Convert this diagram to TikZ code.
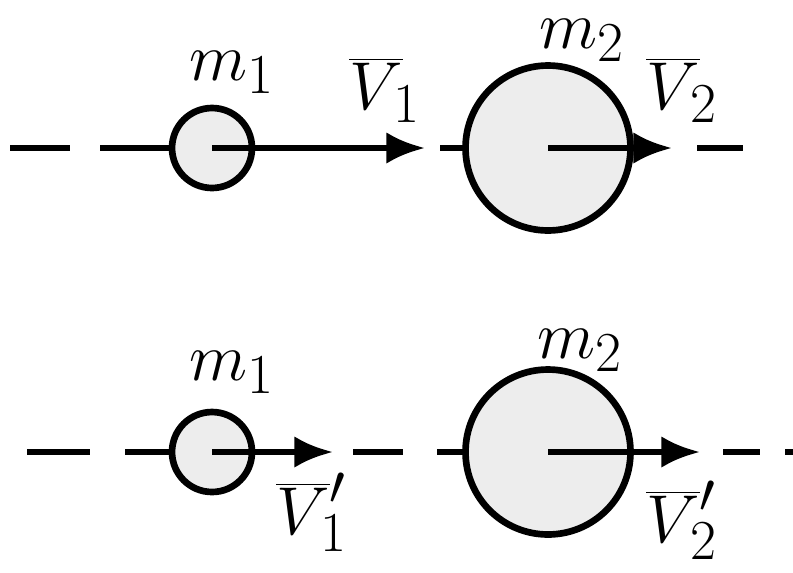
\documentclass[tikz,border=0pt]{standalone}
\usetikzlibrary{arrows.meta}
\newcommand{\biglbl}[1]{\scalebox{1.55}{\Huge #1}}
\begin{document}
\begin{tikzpicture}[x=0.02cm, y=-0.02cm,
  ball/.style={circle, draw, line width=3.8pt, fill=black!7, inner sep=0pt},
  vel/.style={line width=3.6pt, -{Latex[length=22pt, width=18pt]}},
  axis/.style={line width=3.2pt},
  every node/.append style={inner sep=0pt}]
\useasboundingbox (0,0) rectangle (793,572);

% before the collision
\foreach \a/\b in {10/70, 100/172, 440/470, 697/743}
  \draw[axis] (\a,148) -- (\b,148);
\node (c1) at (212,148) [ball, minimum size=1.6cm] {};
\node (c2) at (548,148) [ball, minimum size=3.3cm] {};
\coordinate (t1) at (425,148);
\coordinate (t2) at (672,148);
\draw[vel] (c1.center) -- (t1);
\draw[vel] (c2.center) -- (t2);
\node (m1) at (232,72) {\biglbl{$m_1$}};
\node (v1) at (385,90) {\biglbl{$\overline{V}_{\!1}$}};
\node (m2) at (582,40) {\biglbl{$m_2$}};
\node (v2) at (682,90) {\biglbl{$\overline{V}_{\!2}$}};

% after the collision
\foreach \a/\b in {27/90, 125/172, 353/403, 437/468, 723/760, 785/793}
  \draw[axis] (\a,452) -- (\b,452);
\node (c3) at (212,452) [ball, minimum size=1.6cm] {};
\node (c4) at (548,452) [ball, minimum size=3.3cm] {};
\coordinate (t3) at (333,452);
\coordinate (t4) at (700,452);
\draw[vel] (c3.center) -- (t3);
\draw[vel] (c4.center) -- (t4);
\node (m3) at (232,372) {\biglbl{$m_1$}};
\node (v3) at (312,512) {\biglbl{$\overline{V}'_{\!1}$}};
\node (m4) at (580,350) {\biglbl{$m_2$}};
\node (v4) at (682,520) {\biglbl{$\overline{V}'_{\!2}$}};
\end{tikzpicture}
\end{document}
